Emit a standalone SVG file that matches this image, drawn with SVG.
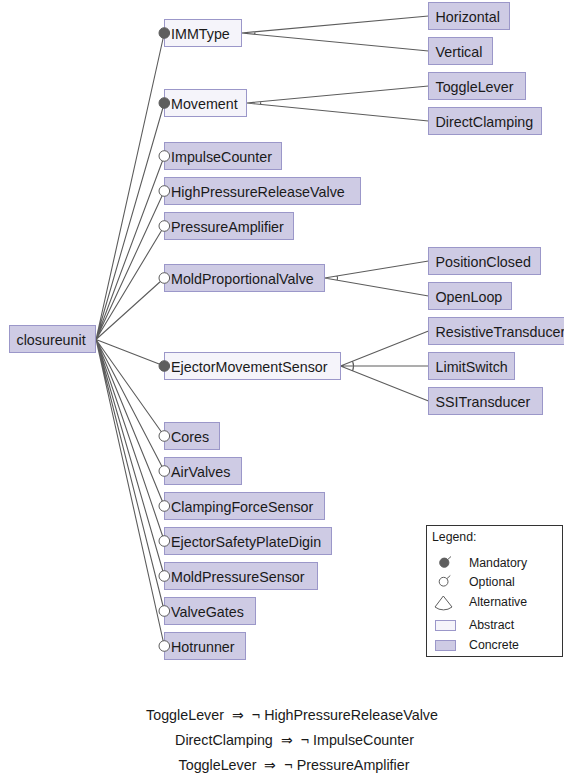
<svg xmlns="http://www.w3.org/2000/svg" width="564" height="775" viewBox="0 0 564 775">
<style>
.c{fill:#cecbe4;stroke:#9b97c9;stroke-width:1}
.a{fill:#f5f4fa;stroke:#9b97c9;stroke-width:1}
text{font-family:"Liberation Sans",Arial,sans-serif;font-size:14.3px;fill:#1a1a1a}
.lg{font-size:12.3px}
.ln{stroke:#5c5c5c;stroke-width:1.1;fill:none}
.m{fill:#5e5e5e;stroke:#5e5e5e;stroke-width:1}
.o{fill:#ffffff;stroke:#5e5e5e;stroke-width:1}
.ct{text-anchor:middle;white-space:pre}
</style>
<rect width="564" height="775" fill="#ffffff"/>
<g id="connectors" class="ln">
<path d="M96 339.5L164.3 33M96 339.5L164.3 103M96 339.5L164.3 156M96 339.5L164.3 191M96 339.5L164.3 226M96 339.5L164.3 278M96 339.5L164.3 366M96 339.5L164.3 436M96 339.5L164.3 471M96 339.5L164.3 506M96 339.5L164.3 541M96 339.5L164.3 576M96 339.5L164.3 611M96 339.5L164.3 646"/>
<path d="M241.3 33L428.5 16M241.3 33L428.5 51M254.8 31.8A14 14 0 0 1 254.8 34.3"/>
<path d="M246.7 103L428.5 86M246.7 103L428.5 121M260.6 101.7A14 14 0 0 1 260.6 104.4"/>
<path d="M324.5 278L428.5 261M324.5 278L428.5 296M337.3 275.9A13 13 0 0 1 337.3 280.2"/>
<path d="M340.5 366L428.5 331M340.5 366L428.5 366M340.5 366L428.5 401M352.6 361.2A13 13 0 0 1 352.6 370.8"/>
</g>
<g id="closureunit"><rect class="c" x="9.5" y="325.5" width="86" height="27"/><text x="16.5" y="344.5">closureunit</text></g>
<g id="IMMType"><rect class="a" x="164.5" y="19.5" width="77" height="27"/><text x="171" y="38.5">IMMType</text><circle class="m" cx="164.3" cy="33" r="5.3"/></g>
<g id="Movement"><rect class="a" x="164.5" y="89.5" width="82" height="27"/><text x="171" y="108.5">Movement</text><circle class="m" cx="164.3" cy="103" r="5.3"/></g>
<g id="ImpulseCounter"><rect class="c" x="164.5" y="142.5" width="117" height="27"/><text x="171" y="161.5">ImpulseCounter</text><circle class="o" cx="164.3" cy="156" r="5.3"/></g>
<g id="HighPressureReleaseValve"><rect class="c" x="164.5" y="177.5" width="196" height="27"/><text x="171" y="196.5">HighPressureReleaseValve</text><circle class="o" cx="164.3" cy="191" r="5.3"/></g>
<g id="PressureAmplifier"><rect class="c" x="164.5" y="212.5" width="129" height="27"/><text x="171" y="231.5">PressureAmplifier</text><circle class="o" cx="164.3" cy="226" r="5.3"/></g>
<g id="MoldProportionalValve"><rect class="c" x="164.5" y="264.5" width="160" height="27"/><text x="171" y="283.5">MoldProportionalValve</text><circle class="o" cx="164.3" cy="278" r="5.3"/></g>
<g id="EjectorMovementSensor"><rect class="a" x="164.5" y="352.5" width="176" height="27"/><text x="171" y="371.5">EjectorMovementSensor</text><circle class="m" cx="164.3" cy="366" r="5.3"/></g>
<g id="Cores"><rect class="c" x="164.5" y="422.5" width="55" height="27"/><text x="171" y="441.5">Cores</text><circle class="o" cx="164.3" cy="436" r="5.3"/></g>
<g id="AirValves"><rect class="c" x="164.5" y="457.5" width="77" height="27"/><text x="171" y="476.5">AirValves</text><circle class="o" cx="164.3" cy="471" r="5.3"/></g>
<g id="ClampingForceSensor"><rect class="c" x="164.5" y="492.5" width="160" height="27"/><text x="171" y="511.5">ClampingForceSensor</text><circle class="o" cx="164.3" cy="506" r="5.3"/></g>
<g id="EjectorSafetyPlateDigin"><rect class="c" x="164.5" y="527.5" width="167" height="27"/><text x="171" y="546.5">EjectorSafetyPlateDigin</text><circle class="o" cx="164.3" cy="541" r="5.3"/></g>
<g id="MoldPressureSensor"><rect class="c" x="164.5" y="562.5" width="153" height="27"/><text x="171" y="581.5">MoldPressureSensor</text><circle class="o" cx="164.3" cy="576" r="5.3"/></g>
<g id="ValveGates"><rect class="c" x="164.5" y="597.5" width="91" height="27"/><text x="171" y="616.5">ValveGates</text><circle class="o" cx="164.3" cy="611" r="5.3"/></g>
<g id="Hotrunner"><rect class="c" x="164.5" y="632.5" width="81" height="27"/><text x="171" y="651.5">Hotrunner</text><circle class="o" cx="164.3" cy="646" r="5.3"/></g>
<g id="Horizontal"><rect class="c" x="428.5" y="2.5" width="81" height="27"/><text x="435.5" y="21.5">Horizontal</text></g>
<g id="Vertical"><rect class="c" x="428.5" y="37.5" width="64" height="27"/><text x="435.5" y="56.5">Vertical</text></g>
<g id="ToggleLever"><rect class="c" x="428.5" y="72.5" width="97" height="27"/><text x="435.5" y="91.5">ToggleLever</text></g>
<g id="DirectClamping"><rect class="c" x="428.5" y="107.5" width="113" height="27"/><text x="435.5" y="126.5">DirectClamping</text></g>
<g id="PositionClosed"><rect class="c" x="428.5" y="247.5" width="112" height="27"/><text x="435.5" y="266.5">PositionClosed</text></g>
<g id="OpenLoop"><rect class="c" x="428.5" y="282.5" width="83" height="27"/><text x="435.5" y="301.5">OpenLoop</text></g>
<g id="ResistiveTransducer"><rect class="c" x="428.5" y="317.5" width="148" height="27"/><text x="435.5" y="336.5">ResistiveTransducer</text></g>
<g id="LimitSwitch"><rect class="c" x="428.5" y="352.5" width="86" height="27"/><text x="435.5" y="371.5">LimitSwitch</text></g>
<g id="SSITransducer"><rect class="c" x="428.5" y="387.5" width="114" height="27"/><text x="435.5" y="406.5">SSITransducer</text></g>
<g id="legend">
<rect x="426.5" y="525.5" width="136" height="131" fill="#ffffff" stroke="#333333" stroke-width="1"/>
<text class="lg" x="432" y="541">Legend:</text>
<line x1="444.3" y1="562.7" x2="451" y2="556.5" stroke="#5e5e5e" stroke-width="1"/>
<circle class="m" cx="444.3" cy="562.7" r="4.6"/>
<text class="lg" x="469" y="567">Mandatory</text>
<line x1="443.6" y1="581.7" x2="450.3" y2="575.5" stroke="#5e5e5e" stroke-width="1"/>
<circle class="o" cx="443.6" cy="581.7" r="4.4"/>
<text class="lg" x="469" y="586">Optional</text>
<path d="M435 607L443.3 596L452 607M435 607A13.9 13.9 0 0 0 452 607" fill="none" stroke="#5e5e5e" stroke-width="1"/>
<text class="lg" x="469" y="605.5">Alternative</text>
<rect class="a" x="435.5" y="620.5" width="20" height="10"/>
<text class="lg" x="469" y="628.5">Abstract</text>
<rect class="c" x="435.5" y="640.5" width="20" height="10"/>
<text class="lg" x="469" y="648.5">Concrete</text>
</g>
<g id="constraints">
<text class="ct" x="292" y="719.5">ToggleLever  ⇒  ¬ HighPressureReleaseValve</text>
<text class="ct" x="294.5" y="745">DirectClamping  ⇒  ¬ ImpulseCounter</text>
<text class="ct" x="294" y="769.5">ToggleLever  ⇒  ¬ PressureAmplifier</text>
</g>
</svg>
